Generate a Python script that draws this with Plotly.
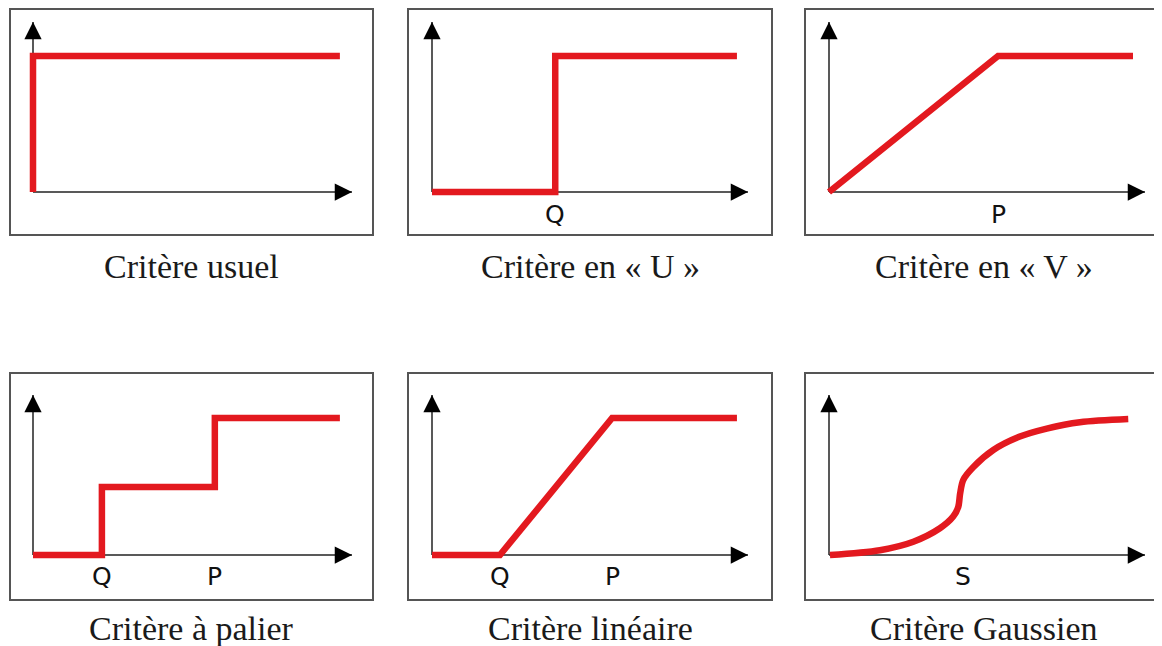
import plotly.graph_objects as go

# ---------------- data (unit coordinates: x 0..10 along the x-axis, y 0..1 along the y-axis)
captions = ["Critère usuel", "Critère en « U »", "Critère en « V »",
            "Critère à palier", "Critère linéaire", "Critère Gaussien"]

usuel_x = [0, 0, 9.62]
usuel_y = [0, 0.80, 0.80]

u_x = [0, 3.9, 3.9, 9.65]
u_y = [0, 0, 0.80, 0.80]

v_x = [0, 5.35, 9.62]
v_y = [0, 0.80, 0.80]

palier_x = [0, 2.16, 2.16, 5.7, 5.7, 9.62]
palier_y = [0, 0, 0.425, 0.425, 0.856, 0.856]

lin_x = [0, 2.15, 5.7, 9.65]
lin_y = [0, 0, 0.856, 0.856]

gauss_x = [0.03, 1.61, 2.67, 3.51, 3.93, 4.09, 4.15, 4.25, 4.57, 5.2, 6.04, 6.89, 7.94, 9.47]
gauss_y = [0.0, 0.03, 0.083, 0.167, 0.24, 0.30, 0.385, 0.47, 0.55, 0.656, 0.74, 0.79, 0.83, 0.85]

# axis marker labels per panel: (label, x position)
labels = [
    [],
    [("Q", 3.9)],
    [("P", 5.35)],
    [("Q", 2.16), ("P", 5.7)],
    [("Q", 2.15), ("P", 5.7)],
    [("S", 4.24)],
]

series = [(usuel_x, usuel_y), (u_x, u_y), (v_x, v_y),
          (palier_x, palier_y), (lin_x, lin_y), (gauss_x, gauss_y)]
shapes_line = ["linear", "linear", "linear", "linear", "linear", "spline"]

# ---------------- layout geometry (window pixels)
W, H = 1162, 646
OFF = 8                      # default page body margin
FW, FH = W - OFF, H - OFF    # figure size
RED = "#E3191F"
AX = "#222222"


def px(x):
    return min(1.0, max(0.0, (x - OFF) / FW))


def py(y):
    return min(1.0, max(0.0, 1 - (y - OFF) / FH))


# origin x, origin y, arrow-end x, arrow-top y
geom = [
    (33, 192, 352, 22), (432, 192, 748, 22), (829, 192, 1145, 22),
    (33, 555, 352, 395), (432, 555, 748, 395), (829, 555, 1145, 395),
]
boxes = [
    (10, 9, 373, 235), (408, 9, 772, 235), (805, 9, 1170, 235),
    (10, 373, 373, 600), (408, 373, 772, 600), (805, 373, 1170, 600),
]
caption_cx = [191.5, 590, 984, 191.5, 590, 984]
caption_y = [267, 267, 267, 628, 628, 628]
label_y = [214, 214, 214, 576, 576, 576]

PAD = 12

fig = go.Figure()
layout = dict(width=FW, height=FH, margin=dict(l=0, r=0, t=0, b=0),
              paper_bgcolor="white", plot_bgcolor="rgba(0,0,0,0)",
              showlegend=False, shapes=[], annotations=[])

for i, ((ox, oy, ex, ty), (xs, ys)) in enumerate(zip(geom, series)):
    sid = "" if i == 0 else str(i + 1)
    sx = (ex - ox) / 10.0
    sy = float(oy - ty)
    padl, padr = PAD, PAD
    padb = PAD
    padt = min(PAD, ty - OFF)
    xdom = [px(ox - padl), px(ex + padr)]
    ydom = [py(oy + padb), py(ty - padt)]
    layout["xaxis" + sid] = dict(domain=xdom, range=[-padl / sx, 10 + padr / sx],
                                 visible=False, fixedrange=True, anchor="y" + sid)
    layout["yaxis" + sid] = dict(domain=ydom, range=[-padb / sy, 1 + padt / sy],
                                 visible=False, fixedrange=True, anchor="x" + sid)
    xr, yr = "x" + sid, "y" + sid

    # axis shafts (below the red line)
    layout["shapes"].append(dict(type="line", xref=xr, yref=yr, x0=0, y0=0, x1=10, y1=0,
                                 line=dict(color=AX, width=1.5), layer="below"))
    layout["shapes"].append(dict(type="line", xref=xr, yref=yr, x0=0, y0=0, x1=0, y1=1,
                                 line=dict(color=AX, width=1.5), layer="below"))
    # arrowheads
    layout["annotations"].append(dict(x=10, y=0, xref=xr, yref=yr, ax=-12, ay=0,
                                      showarrow=True, arrowhead=2, arrowsize=2.3,
                                      arrowwidth=1.5, arrowcolor="#000", text=""))
    layout["annotations"].append(dict(x=0, y=1, xref=xr, yref=yr, ax=0, ay=12,
                                      showarrow=True, arrowhead=2, arrowsize=2.3,
                                      arrowwidth=1.5, arrowcolor="#000", text=""))

    fig.add_trace(go.Scatter(x=xs, y=ys, xaxis=xr, yaxis=yr, mode="lines",
                             line=dict(color=RED, width=6.5, shape=shapes_line[i],
                                       smoothing=0.9),
                             hoverinfo="skip"))

    for (lab, lx) in labels[i]:
        layout["annotations"].append(dict(x=lx, xref=xr, y=py(label_y[i]), yref="paper",
                                          text=lab, showarrow=False, xanchor="center",
                                          yanchor="middle",
                                          font=dict(family="DejaVu Sans", size=25,
                                                    color="#111")))

    bx0, by0, bx1, by1 = boxes[i]
    layout["shapes"].append(dict(type="rect", xref="paper", yref="paper",
                                 x0=(bx0 - OFF) / FW, x1=(bx1 - OFF) / FW,
                                 y0=1 - (by1 - OFF) / FH, y1=1 - (by0 - OFF) / FH,
                                 line=dict(color="#555555", width=2),
                                 fillcolor="rgba(0,0,0,0)", layer="below"))

    layout["annotations"].append(dict(x=px(caption_cx[i]), xref="paper",
                                      y=py(caption_y[i]), yref="paper",
                                      text=captions[i], showarrow=False,
                                      xanchor="center", yanchor="middle",
                                      font=dict(family="Liberation Serif", size=34,
                                                color="#1a1a1a")))

fig.update_layout(**layout)
fig.write_html("out.html", config={"displayModeBar": False})
